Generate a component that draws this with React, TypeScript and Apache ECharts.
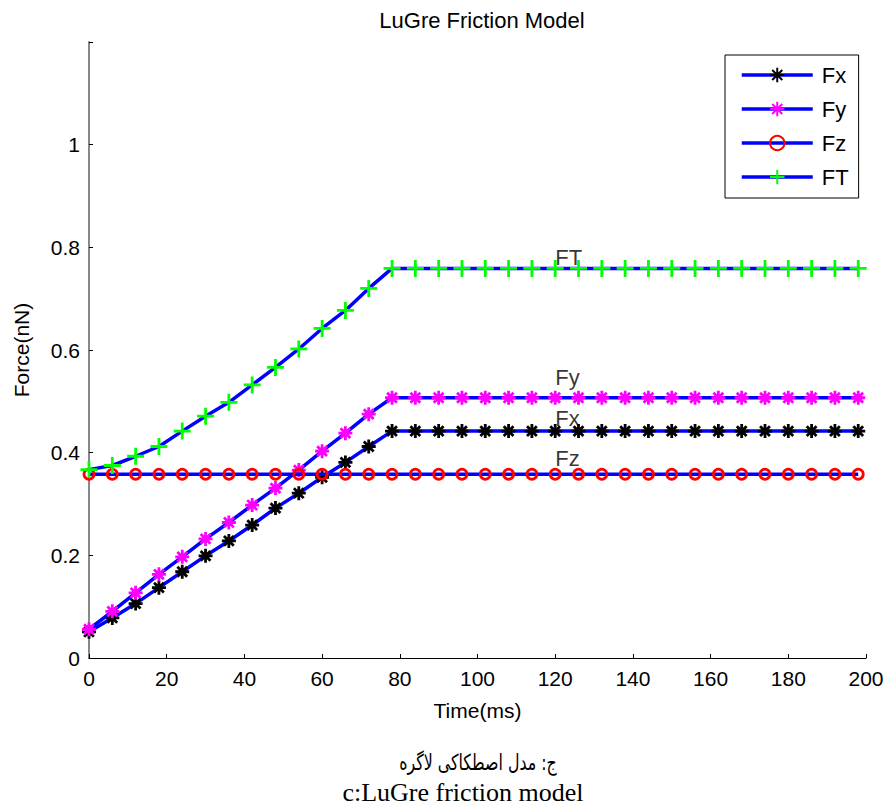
import React, { useEffect, useRef } from "react";
import * as echarts from "echarts";

const times = [0, 6, 12, 18, 24, 30, 36, 42, 48, 54, 60, 66, 72, 78, 84, 90, 96, 102, 108, 114, 120, 126, 132, 138, 144, 150, 156, 162, 168, 174, 180, 186, 192, 198];
const fx = [0.051, 0.078, 0.106, 0.137, 0.168, 0.199, 0.228, 0.259, 0.292, 0.321, 0.352, 0.381, 0.412, 0.442, 0.442, 0.442, 0.442, 0.442, 0.442, 0.442, 0.442, 0.442, 0.442, 0.442, 0.442, 0.442, 0.442, 0.442, 0.442, 0.442, 0.442, 0.442, 0.442, 0.442];
const fy = [0.056, 0.091, 0.127, 0.163, 0.197, 0.232, 0.264, 0.298, 0.331, 0.366, 0.403, 0.438, 0.475, 0.507, 0.507, 0.507, 0.507, 0.507, 0.507, 0.507, 0.507, 0.507, 0.507, 0.507, 0.507, 0.507, 0.507, 0.507, 0.507, 0.507, 0.507, 0.507, 0.507, 0.507];
const fz = [0.358, 0.358, 0.358, 0.358, 0.358, 0.358, 0.358, 0.358, 0.358, 0.358, 0.358, 0.358, 0.358, 0.358, 0.358, 0.358, 0.358, 0.358, 0.358, 0.358, 0.358, 0.358, 0.358, 0.358, 0.358, 0.358, 0.358, 0.358, 0.358, 0.358, 0.358, 0.358, 0.358, 0.358];
const ft = [0.367, 0.375, 0.393, 0.412, 0.442, 0.471, 0.498, 0.532, 0.566, 0.602, 0.642, 0.677, 0.72, 0.759, 0.759, 0.759, 0.759, 0.759, 0.759, 0.759, 0.759, 0.759, 0.759, 0.759, 0.759, 0.759, 0.759, 0.759, 0.759, 0.759, 0.759, 0.759, 0.759, 0.759];

const seriesNames = ["Fx", "Fy", "Fz", "FT"];
const annoX = [120, 120, 120, 120];
const annoY = [0.467, 0.547, 0.389, 0.78];
const annoText = ["Fx", "Fy", "Fz", "FT"];

const titleText = "LuGre Friction Model";
const xName = "Time(ms)";
const yName = "Force(nN)";
const captionFa = "ج: مدل اصطکاکی لاگره";
const captionEn = "c:LuGre friction model";

const STAR = "path://M0,-1L0,1M-1,0L1,0M-0.7,-0.7L0.7,0.7M-0.7,0.7L0.7,-0.7";
const PLUS = "path://M-1,0L1,0M0,-1L0,1";
const SANS = "Liberation Sans, Arial, sans-serif";

export default function App() {
  const ref = useRef<HTMLDivElement>(null);
  useEffect(() => {
    if (!ref.current) return;
    const chart = echarts.init(ref.current, null, { renderer: "svg" });
    const pair = (arr: number[]) => times.map((t, i) => [t, arr[i]]);
    const lineBase = {
      type: "line",
      showAllSymbol: true,
      lineStyle: { color: "#0000ff", width: 3.5 },
      emphasis: { disabled: true },
    };
    chart.setOption({
      animation: false,
      backgroundColor: "#ffffff",
      textStyle: { fontFamily: SANS },
      title: {
        text: titleText,
        left: 477,
        textAlign: "center",
        top: 4,
        textStyle: { fontSize: 22, fontWeight: "normal", color: "#000", fontFamily: SANS },
      },
      grid: { left: 89, right: 22, top: 42, bottom: 150, containLabel: false, outerBoundsMode: "none" },
      legend: {
        data: seriesNames,
        orient: "vertical",
        left: 725,
        top: 55,
        padding: [9, 10, 10, 15],
        itemGap: 12,
        itemWidth: 71,
        itemHeight: 18,
        borderColor: "#000",
        borderWidth: 1,
        backgroundColor: "#fff",
        lineStyle: { width: 3.5 },
        textStyle: { fontSize: 22, color: "#000", fontFamily: SANS, padding: [0, 0, 0, 4] },
      },
      xAxis: {
        type: "value",
        min: 0,
        max: 200,
        interval: 20,
        name: xName,
        nameLocation: "middle",
        nameGap: 42,
        nameTextStyle: { fontSize: 21, color: "#000", fontFamily: SANS },
        axisLine: { onZero: false, lineStyle: { color: "#000", width: 1 } },
        axisTick: { inside: true, length: 4, lineStyle: { color: "#000" } },
        axisLabel: { fontSize: 21, color: "#000", margin: 10, fontFamily: SANS },
        splitLine: { show: false },
      },
      yAxis: {
        type: "value",
        min: 0,
        max: 1.2,
        interval: 0.2,
        name: yName,
        nameLocation: "middle",
        nameGap: 57,
        nameRotate: 90,
        nameTextStyle: { fontSize: 21, color: "#000", fontFamily: SANS },
        axisLine: { show: true, lineStyle: { color: "#888888", width: 2 } },
        axisTick: { show: true, inside: true, length: 4, lineStyle: { color: "#000" } },
        axisLabel: {
          fontSize: 21,
          color: "#000",
          margin: 9,
          fontFamily: SANS,
          formatter: (v: number) => (Math.abs(v - 1.2) < 1e-6 ? "" : String(Math.round(v * 10) / 10)),
        },
        splitLine: { show: false },
      },
      series: [
        {
          ...lineBase,
          name: "Fx",
          data: pair(fx),
          symbol: STAR,
          symbolSize: 14,
          itemStyle: { color: "#000", borderColor: "#000", borderWidth: 2.8 },
          z: 2,
        },
        {
          ...lineBase,
          name: "Fy",
          data: pair(fy),
          symbol: STAR,
          symbolSize: 14,
          itemStyle: { color: "#ff00ff", borderColor: "#ff00ff", borderWidth: 2.8 },
          z: 3,
        },
        {
          ...lineBase,
          name: "Fz",
          data: pair(fz),
          symbol: "circle",
          symbolSize: 10,
          itemStyle: { color: "rgba(0,0,0,0)", borderColor: "#ff0000", borderWidth: 2.8 },
          z: 4,
        },
        {
          ...lineBase,
          name: "FT",
          data: pair(ft),
          symbol: PLUS,
          symbolSize: 17,
          itemStyle: { color: "#00ff00", borderColor: "#00ff00", borderWidth: 2.8 },
          z: 5,
        },
        {
          type: "scatter",
          name: "annotations",
          data: annoX.map((x, i) => ({ value: [x, annoY[i]], name: annoText[i] })),
          symbolSize: 0,
          silent: true,
          label: {
            show: true,
            position: "right",
            distance: 0,
            formatter: (p: any) => p.name,
            fontSize: 22,
            color: "#000",
            fontFamily: SANS,
          },
          z: 10,
        },
      ],
      graphic: [
        {
          type: "text",
          x: 478,
          y: 763,
          scaleX: 0.72,
          style: {
            text: captionFa,
            fontSize: 22,
            fill: "#000",
            align: "center",
            verticalAlign: "middle",
            fontFamily: "DejaVu Sans, serif",
          },
        },
        {
          type: "text",
          x: 463,
          y: 792,
          style: {
            text: captionEn,
            fontSize: 26,
            fill: "#000",
            align: "center",
            verticalAlign: "middle",
            fontFamily: "Liberation Serif, Times New Roman, serif",
          },
        },
      ],
    });
    return () => chart.dispose();
  }, []);
  return <div ref={ref} style={{ width: 888, height: 808, position: "absolute", left: 0, top: 0 }} />;
}
